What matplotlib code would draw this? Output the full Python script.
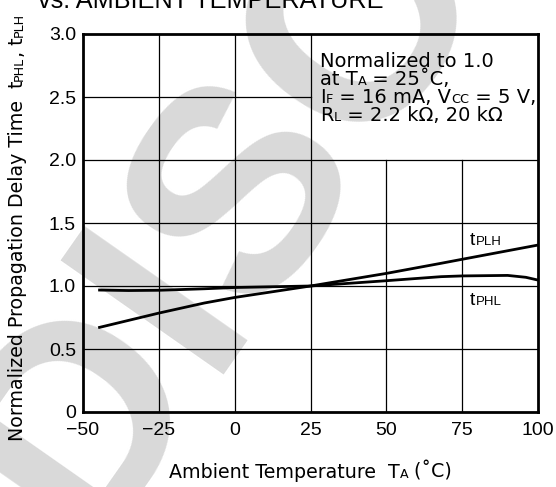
import matplotlib
matplotlib.use("Agg")
import matplotlib.pyplot as plt
from matplotlib.transforms import offset_copy

# ---- data ----
x_ticks = [-50, -25, 0, 25, 50, 75, 100]
x_tick_labels = ["\u221250", "\u221225", "0", "25", "50", "75", "100"]
y_ticks = [0, 0.5, 1.0, 1.5, 2.0, 2.5, 3.0]
y_tick_labels = ["0", "0.5", "1.0", "1.5", "2.0", "2.5", "3.0"]

temp_plh = [-45, -25, -10, 0, 25, 50, 68, 75, 100]
t_plh = [0.669, 0.785, 0.865, 0.909, 1.0, 1.10, 1.18, 1.212, 1.325]

temp_phl = [-45, -35, -25, -10, 0, 25, 50, 68, 75, 90, 96, 100]
t_phl = [0.968, 0.964, 0.966, 0.978, 0.988, 1.0, 1.042, 1.074, 1.080, 1.084, 1.069, 1.047]

# blank note area (no grid inside): x from 25 to 100, y from 2.0 to 3.0
note_x0, note_y0 = 25, 2.0

ARIAL = ["Liberation Sans", "DejaVu Sans"]
WIDE = ["DejaVu Sans"]
plt.rcParams["font.family"] = ARIAL

W, H, DPI = 556, 487, 100
fig = plt.figure(figsize=(W / DPI, H / DPI), dpi=DPI)
renderer = fig.canvas.get_renderer()

def seg_width(s, size, fam):
    t1 = fig.text(0, 0, "|" + s + "|", fontsize=size, family=fam)
    t2 = fig.text(0, 0, "||", fontsize=size, family=fam)
    w = t1.get_window_extent(renderer).width - t2.get_window_extent(renderer).width
    t1.remove(); t2.remove()
    return w

def rich(x, y, segs, transform, rotation=0, ha="left", fam=ARIAL, zorder=5):
    widths = [seg_width(s, sz, fam) for s, sz in segs]
    total = sum(widths)
    pos = 0.0 if ha == "left" else -total / 2.0
    for (s, sz), w in zip(segs, widths):
        off = pos * 72.0 / DPI
        if rotation == 0:
            tr = offset_copy(transform, fig=fig, x=off, y=0, units="points")
        else:
            tr = offset_copy(transform, fig=fig, x=0, y=off, units="points")
        fig.text(x, y, s, fontsize=sz, transform=tr, rotation=rotation,
                 rotation_mode="anchor", ha="left", va="baseline",
                 color="black", family=fam, zorder=zorder)
        pos += w

# ---- watermark ----
fig.text(85 / W, 1 - 545 / H, "DISCONTINUED", fontsize=209, weight="bold",
         color="#d9d9d9", rotation=55, rotation_mode="anchor",
         ha="left", va="baseline", family=ARIAL, zorder=-5)

ax = fig.add_axes([83 / W, 1 - 412 / H, 455 / W, 378 / H])
ax.set_facecolor("none")
ax.set_xlim(-50, 100)
ax.set_ylim(0, 3.0)
ax.set_xticks(x_ticks)
ax.set_xticklabels(x_tick_labels)
ax.set_yticks(y_ticks)
ax.set_yticklabels(y_tick_labels)
ax.tick_params(length=0, labelsize=14, pad=5)
ax.tick_params(axis="x", pad=7)
for sp in ax.spines.values():
    sp.set_linewidth(2.0)

# grid, leaving the note area blank
for xv in x_ticks[1:-1]:
    top = note_y0 if xv > note_x0 else 3.0
    ax.plot([xv, xv], [0, top], color="black", lw=0.9, zorder=1)
for yv in y_ticks[1:-1]:
    right = note_x0 if yv > note_y0 else 100
    ax.plot([-50, right], [yv, yv], color="black", lw=0.9, zorder=1)

ax.plot(temp_plh, t_plh, color="black", lw=2.0, solid_capstyle="butt", zorder=3)
ax.plot(temp_phl, t_phl, color="black", lw=2.0, solid_capstyle="butt", zorder=3)

BIG, SMALL = 14, 9.5
BOX, BOXS = 14, 9.3
LAB, LABS = 13.7, 9.1
# curve labels
rich(77.6, 1.325, [("t", BIG), ("PLH", SMALL)], ax.transData)
rich(77.6, 0.849, [("t", BIG), ("PHL", SMALL)], ax.transData)

# annotation text
rich(28.1, 2.74, [("Normalized to 1.0", BOX)], ax.transData, fam=WIDE)
rich(28.1, 2.595, [("at T", BOX), ("A", BOXS), (" = 25\u02daC,", BOX)], ax.transData, fam=WIDE)
rich(28.1, 2.455, [("I", BOX), ("F", BOXS), (" = 16 mA, V", BOX), ("CC", BOXS), (" = 5 V,", BOX)],
     ax.transData, fam=WIDE)
rich(28.1, 2.31, [("R", BOX), ("L", BOXS), (" = 2.2 k\u03a9, 20 k\u03a9", BOX)], ax.transData, fam=WIDE)

# axis labels
rich(310.5 / W, 1 - 478 / H, [("Ambient Temperature  T", LAB), ("A", LABS), (" (\u02daC)", LAB)],
     fig.transFigure, ha="center", fam=WIDE)
rich(23 / W, 1 - 227 / H, [("Normalized Propagation Delay Time  t", LAB), ("PHL", LABS),
                           (", t", LAB), ("PLH", LABS)],
     fig.transFigure, rotation=90, ha="center", fam=WIDE)

# title (cut off at top)
fig.text(38 / W, 1 - 8 / H, "vs. AMBIENT TEMPERATURE", fontsize=18.2, ha="left",
         va="baseline", family=ARIAL)

fig.savefig("out.png", dpi=DPI)
